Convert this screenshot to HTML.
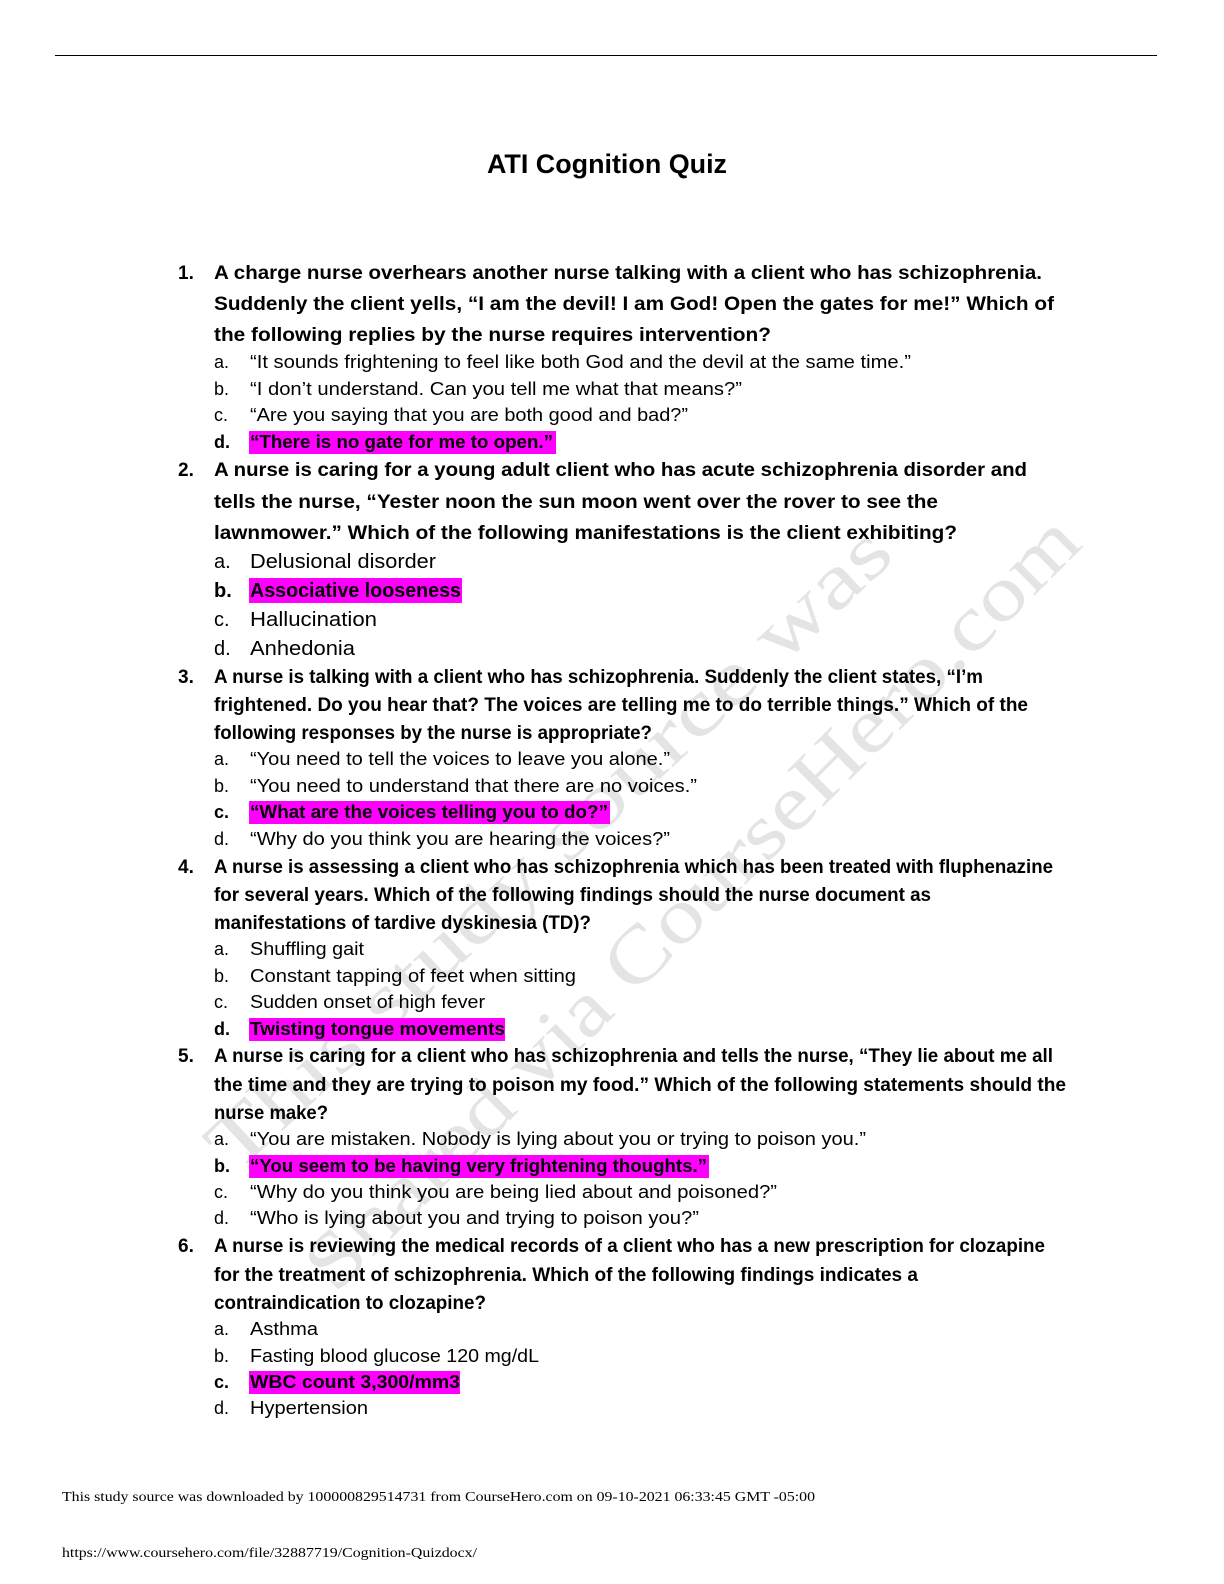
<!DOCTYPE html>
<html><head><meta charset="utf-8"><style>
html,body{margin:0;padding:0;background:#fff;width:1224px;height:1584px;overflow:hidden;}
svg{display:block;position:absolute;left:0;top:0;}
.q{font-family:"Liberation Sans",sans-serif;font-weight:bold;font-size:19px;fill:#000;}
.o{font-family:"Liberation Sans",sans-serif;font-size:18px;fill:#000;}
.ob{font-family:"Liberation Sans",sans-serif;font-size:18px;font-weight:bold;fill:#000;}
.o2{font-family:"Liberation Sans",sans-serif;font-size:20px;fill:#000;}
.ob2{font-family:"Liberation Sans",sans-serif;font-size:20px;font-weight:bold;fill:#000;}
.wm{font-family:"Liberation Serif",serif;font-size:78px;fill:#e4e4e4;}
.ft{font-family:"Liberation Serif",serif;font-size:14px;fill:#000;}
</style></head><body>
<svg width="1224" height="1584" viewBox="0 0 1224 1584" xmlns="http://www.w3.org/2000/svg">
<line x1="55" y1="55.5" x2="1157" y2="55.5" stroke="#000" stroke-width="1"/>
<text class="wm" transform="translate(235,1175) rotate(-43)" textLength="905" lengthAdjust="spacingAndGlyphs">This study source was</text>
<text class="wm" transform="translate(335,1295) rotate(-45)" textLength="1060" lengthAdjust="spacingAndGlyphs">Shared via CourseHero.com</text>
<text x="487" y="173" font-family="Liberation Sans,sans-serif" font-weight="bold" font-size="27" textLength="240" lengthAdjust="spacingAndGlyphs">ATI Cognition Quiz</text>
<g fill="#ff00ff">
<rect x="249" y="431" width="307" height="23"/>
<rect x="249" y="578" width="213" height="25"/>
<rect x="249" y="801" width="361" height="23"/>
<rect x="249" y="1018" width="256" height="23"/>
<rect x="249" y="1155" width="460" height="23"/>
<rect x="249" y="1371" width="211" height="23"/>
</g>
<text class="q" x="178" y="279">1.</text>
<text class="q" x="214" y="279" textLength="828" lengthAdjust="spacingAndGlyphs">A charge nurse overhears another nurse talking with a client who has schizophrenia.</text>
<text class="q" x="214" y="310" textLength="840" lengthAdjust="spacingAndGlyphs">Suddenly the client yells, “I am the devil! I am God! Open the gates for me!” Which of</text>
<text class="q" x="214" y="341" textLength="557" lengthAdjust="spacingAndGlyphs">the following replies by the nurse requires intervention?</text>
<text class="o" x="214" y="368">a.</text><text class="o" x="250" y="368" textLength="661" lengthAdjust="spacingAndGlyphs">“It sounds frightening to feel like both God and the devil at the same time.”</text>
<text class="o" x="214" y="395">b.</text><text class="o" x="250" y="395" textLength="492" lengthAdjust="spacingAndGlyphs">“I don’t understand. Can you tell me what that means?”</text>
<text class="o" x="214" y="421">c.</text><text class="o" x="250" y="421" textLength="438" lengthAdjust="spacingAndGlyphs">“Are you saying that you are both good and bad?”</text>
<text class="ob" x="214" y="448">d.</text><text class="ob" x="250" y="448" textLength="303" lengthAdjust="spacingAndGlyphs">“There is no gate for me to open.”</text>
<text class="q" x="178" y="476">2.</text>
<text class="q" x="214" y="476" textLength="813" lengthAdjust="spacingAndGlyphs">A nurse is caring for a young adult client who has acute schizophrenia disorder and</text>
<text class="q" x="214" y="508" textLength="724" lengthAdjust="spacingAndGlyphs">tells the nurse, “Yester noon the sun moon went over the rover to see the</text>
<text class="q" x="214" y="539" textLength="743" lengthAdjust="spacingAndGlyphs">lawnmower.” Which of the following manifestations is the client exhibiting?</text>
<text class="o2" x="214" y="568">a.</text><text class="o2" x="250" y="568" textLength="186" lengthAdjust="spacingAndGlyphs">Delusional disorder</text>
<text class="ob2" x="214" y="597">b.</text><text class="ob2" x="250" y="597" textLength="211" lengthAdjust="spacingAndGlyphs">Associative looseness</text>
<text class="o2" x="214" y="626">c.</text><text class="o2" x="250" y="626" textLength="127" lengthAdjust="spacingAndGlyphs">Hallucination</text>
<text class="o2" x="214" y="655">d.</text><text class="o2" x="250" y="655" textLength="105" lengthAdjust="spacingAndGlyphs">Anhedonia</text>
<text class="q" x="178" y="683">3.</text>
<text class="q" x="214" y="683" textLength="769" lengthAdjust="spacingAndGlyphs">A nurse is talking with a client who has schizophrenia. Suddenly the client states, “I’m</text>
<text class="q" x="214" y="711" textLength="814" lengthAdjust="spacingAndGlyphs">frightened. Do you hear that? The voices are telling me to do terrible things.” Which of the</text>
<text class="q" x="214" y="739" textLength="438" lengthAdjust="spacingAndGlyphs">following responses by the nurse is appropriate?</text>
<text class="o" x="214" y="765">a.</text><text class="o" x="250" y="765" textLength="420" lengthAdjust="spacingAndGlyphs">“You need to tell the voices to leave you alone.”</text>
<text class="o" x="214" y="792">b.</text><text class="o" x="250" y="792" textLength="447" lengthAdjust="spacingAndGlyphs">“You need to understand that there are no voices.”</text>
<text class="ob" x="214" y="818">c.</text><text class="ob" x="250" y="818" textLength="358" lengthAdjust="spacingAndGlyphs">“What are the voices telling you to do?”</text>
<text class="o" x="214" y="845">d.</text><text class="o" x="250" y="845" textLength="420" lengthAdjust="spacingAndGlyphs">“Why do you think you are hearing the voices?”</text>
<text class="q" x="178" y="873">4.</text>
<text class="q" x="214" y="873" textLength="839" lengthAdjust="spacingAndGlyphs">A nurse is assessing a client who has schizophrenia which has been treated with fluphenazine</text>
<text class="q" x="214" y="901" textLength="717" lengthAdjust="spacingAndGlyphs">for several years. Which of the following findings should the nurse document as</text>
<text class="q" x="214" y="929" textLength="377" lengthAdjust="spacingAndGlyphs">manifestations of tardive dyskinesia (TD)?</text>
<text class="o" x="214" y="955">a.</text><text class="o" x="250" y="955" textLength="114" lengthAdjust="spacingAndGlyphs">Shuffling gait</text>
<text class="o" x="214" y="982">b.</text><text class="o" x="250" y="982" textLength="326" lengthAdjust="spacingAndGlyphs">Constant tapping of feet when sitting</text>
<text class="o" x="214" y="1008">c.</text><text class="o" x="250" y="1008" textLength="235" lengthAdjust="spacingAndGlyphs">Sudden onset of high fever</text>
<text class="ob" x="214" y="1035">d.</text><text class="ob" x="250" y="1035" textLength="255" lengthAdjust="spacingAndGlyphs">Twisting tongue movements</text>
<text class="q" x="178" y="1062">5.</text>
<text class="q" x="214" y="1062" textLength="839" lengthAdjust="spacingAndGlyphs">A nurse is caring for a client who has schizophrenia and tells the nurse, “They lie about me all</text>
<text class="q" x="214" y="1091" textLength="852" lengthAdjust="spacingAndGlyphs">the time and they are trying to poison my food.” Which of the following statements should the</text>
<text class="q" x="214" y="1119" textLength="114" lengthAdjust="spacingAndGlyphs">nurse make?</text>
<text class="o" x="214" y="1145">a.</text><text class="o" x="250" y="1145" textLength="616" lengthAdjust="spacingAndGlyphs">“You are mistaken. Nobody is lying about you or trying to poison you.”</text>
<text class="ob" x="214" y="1172">b.</text><text class="ob" x="250" y="1172" textLength="457" lengthAdjust="spacingAndGlyphs">“You seem to be having very frightening thoughts.”</text>
<text class="o" x="214" y="1198">c.</text><text class="o" x="250" y="1198" textLength="527" lengthAdjust="spacingAndGlyphs">“Why do you think you are being lied about and poisoned?”</text>
<text class="o" x="214" y="1224">d.</text><text class="o" x="250" y="1224" textLength="449" lengthAdjust="spacingAndGlyphs">“Who is lying about you and trying to poison you?”</text>
<text class="q" x="178" y="1252">6.</text>
<text class="q" x="214" y="1252" textLength="831" lengthAdjust="spacingAndGlyphs">A nurse is reviewing the medical records of a client who has a new prescription for clozapine</text>
<text class="q" x="214" y="1281" textLength="704" lengthAdjust="spacingAndGlyphs">for the treatment of schizophrenia. Which of the following findings indicates a</text>
<text class="q" x="214" y="1309" textLength="272" lengthAdjust="spacingAndGlyphs">contraindication to clozapine?</text>
<text class="o" x="214" y="1335">a.</text><text class="o" x="250" y="1335" textLength="68" lengthAdjust="spacingAndGlyphs">Asthma</text>
<text class="o" x="214" y="1362">b.</text><text class="o" x="250" y="1362" textLength="289" lengthAdjust="spacingAndGlyphs">Fasting blood glucose 120 mg/dL</text>
<text class="ob" x="214" y="1388">c.</text><text class="ob" x="250" y="1388" textLength="210" lengthAdjust="spacingAndGlyphs">WBC count 3,300/mm3</text>
<text class="o" x="214" y="1414">d.</text><text class="o" x="250" y="1414" textLength="118" lengthAdjust="spacingAndGlyphs">Hypertension</text>
<text class="ft" x="62" y="1501" textLength="753" lengthAdjust="spacingAndGlyphs">This study source was downloaded by 100000829514731 from CourseHero.com on 09-10-2021 06:33:45 GMT -05:00</text>
<text class="ft" x="62" y="1557" textLength="415" lengthAdjust="spacingAndGlyphs">https://www.coursehero.com/file/32887719/Cognition-Quizdocx/</text>
</svg>
</body></html>
